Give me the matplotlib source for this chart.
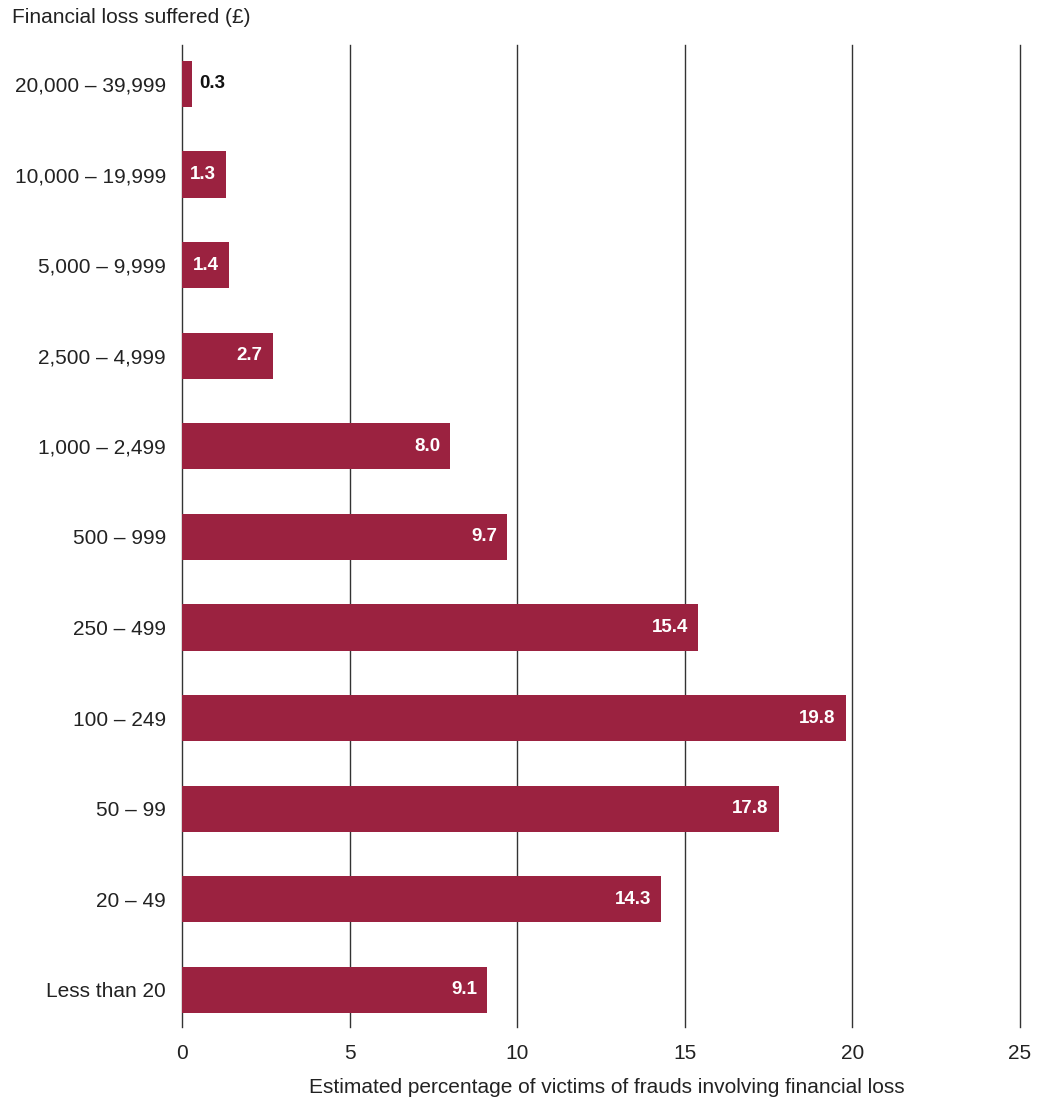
import matplotlib.pyplot as plt

plt.rcParams['font.family'] = ['Liberation Sans', 'DejaVu Sans']

categories = ['Less than 20', '20 – 49', '50 – 99', '100 – 249', '250 – 499',
              '500 – 999', '1,000 – 2,499', '2,500 – 4,999', '5,000 – 9,999',
              '10,000 – 19,999', '20,000 – 39,999']
values = [9.1, 14.3, 17.8, 19.8, 15.4, 9.7, 8.0, 2.7, 1.4, 1.3, 0.3]
xticks = [0, 5, 10, 15, 20, 25]

bar_color = '#9b2240'

fig = plt.figure(figsize=(10.49, 11.04), dpi=100)
ax = fig.add_axes([0.1735, 0.0697, 0.7989, 0.8895])

for x in xticks:
    ax.axvline(x, color='#333333', lw=1.0, zorder=1, clip_on=False)

ypos = range(len(categories))
ax.barh(ypos, values, height=0.51, color=bar_color, zorder=2)

for y, v in zip(ypos, values):
    if v < 1:
        ax.text(v + 0.22, y, f'{v:.1f}', va='center', ha='left',
                fontsize=13.5, fontweight='bold', color='#111111', zorder=3)
    else:
        ax.text(v - 0.3, y, f'{v:.1f}', va='center', ha='right',
                fontsize=13.5, fontweight='bold', color='white', zorder=3)

ax.set_xlim(0, 25)
ax.set_ylim(-0.41, 10.43)
ax.set_yticks(list(ypos))
ax.set_yticklabels(categories, fontsize=15, color='#222222')
ax.set_xticks(xticks)
ax.set_xticklabels([str(t) for t in xticks], fontsize=15, color='#222222')
ax.tick_params(axis='both', length=0)
ax.tick_params(axis='x', pad=12)
ax.tick_params(axis='y', pad=11.5)
for s in ax.spines.values():
    s.set_visible(False)

fig.text(0.0115, 0.9837, 'Financial loss suffered (£)', fontsize=15,
         color='#222222', ha='left', va='center')
fig.text(0.578, 0.0145, 'Estimated percentage of victims of frauds involving financial loss',
         fontsize=15, color='#222222', ha='center', va='center')

fig.savefig('out.png', dpi=100)
